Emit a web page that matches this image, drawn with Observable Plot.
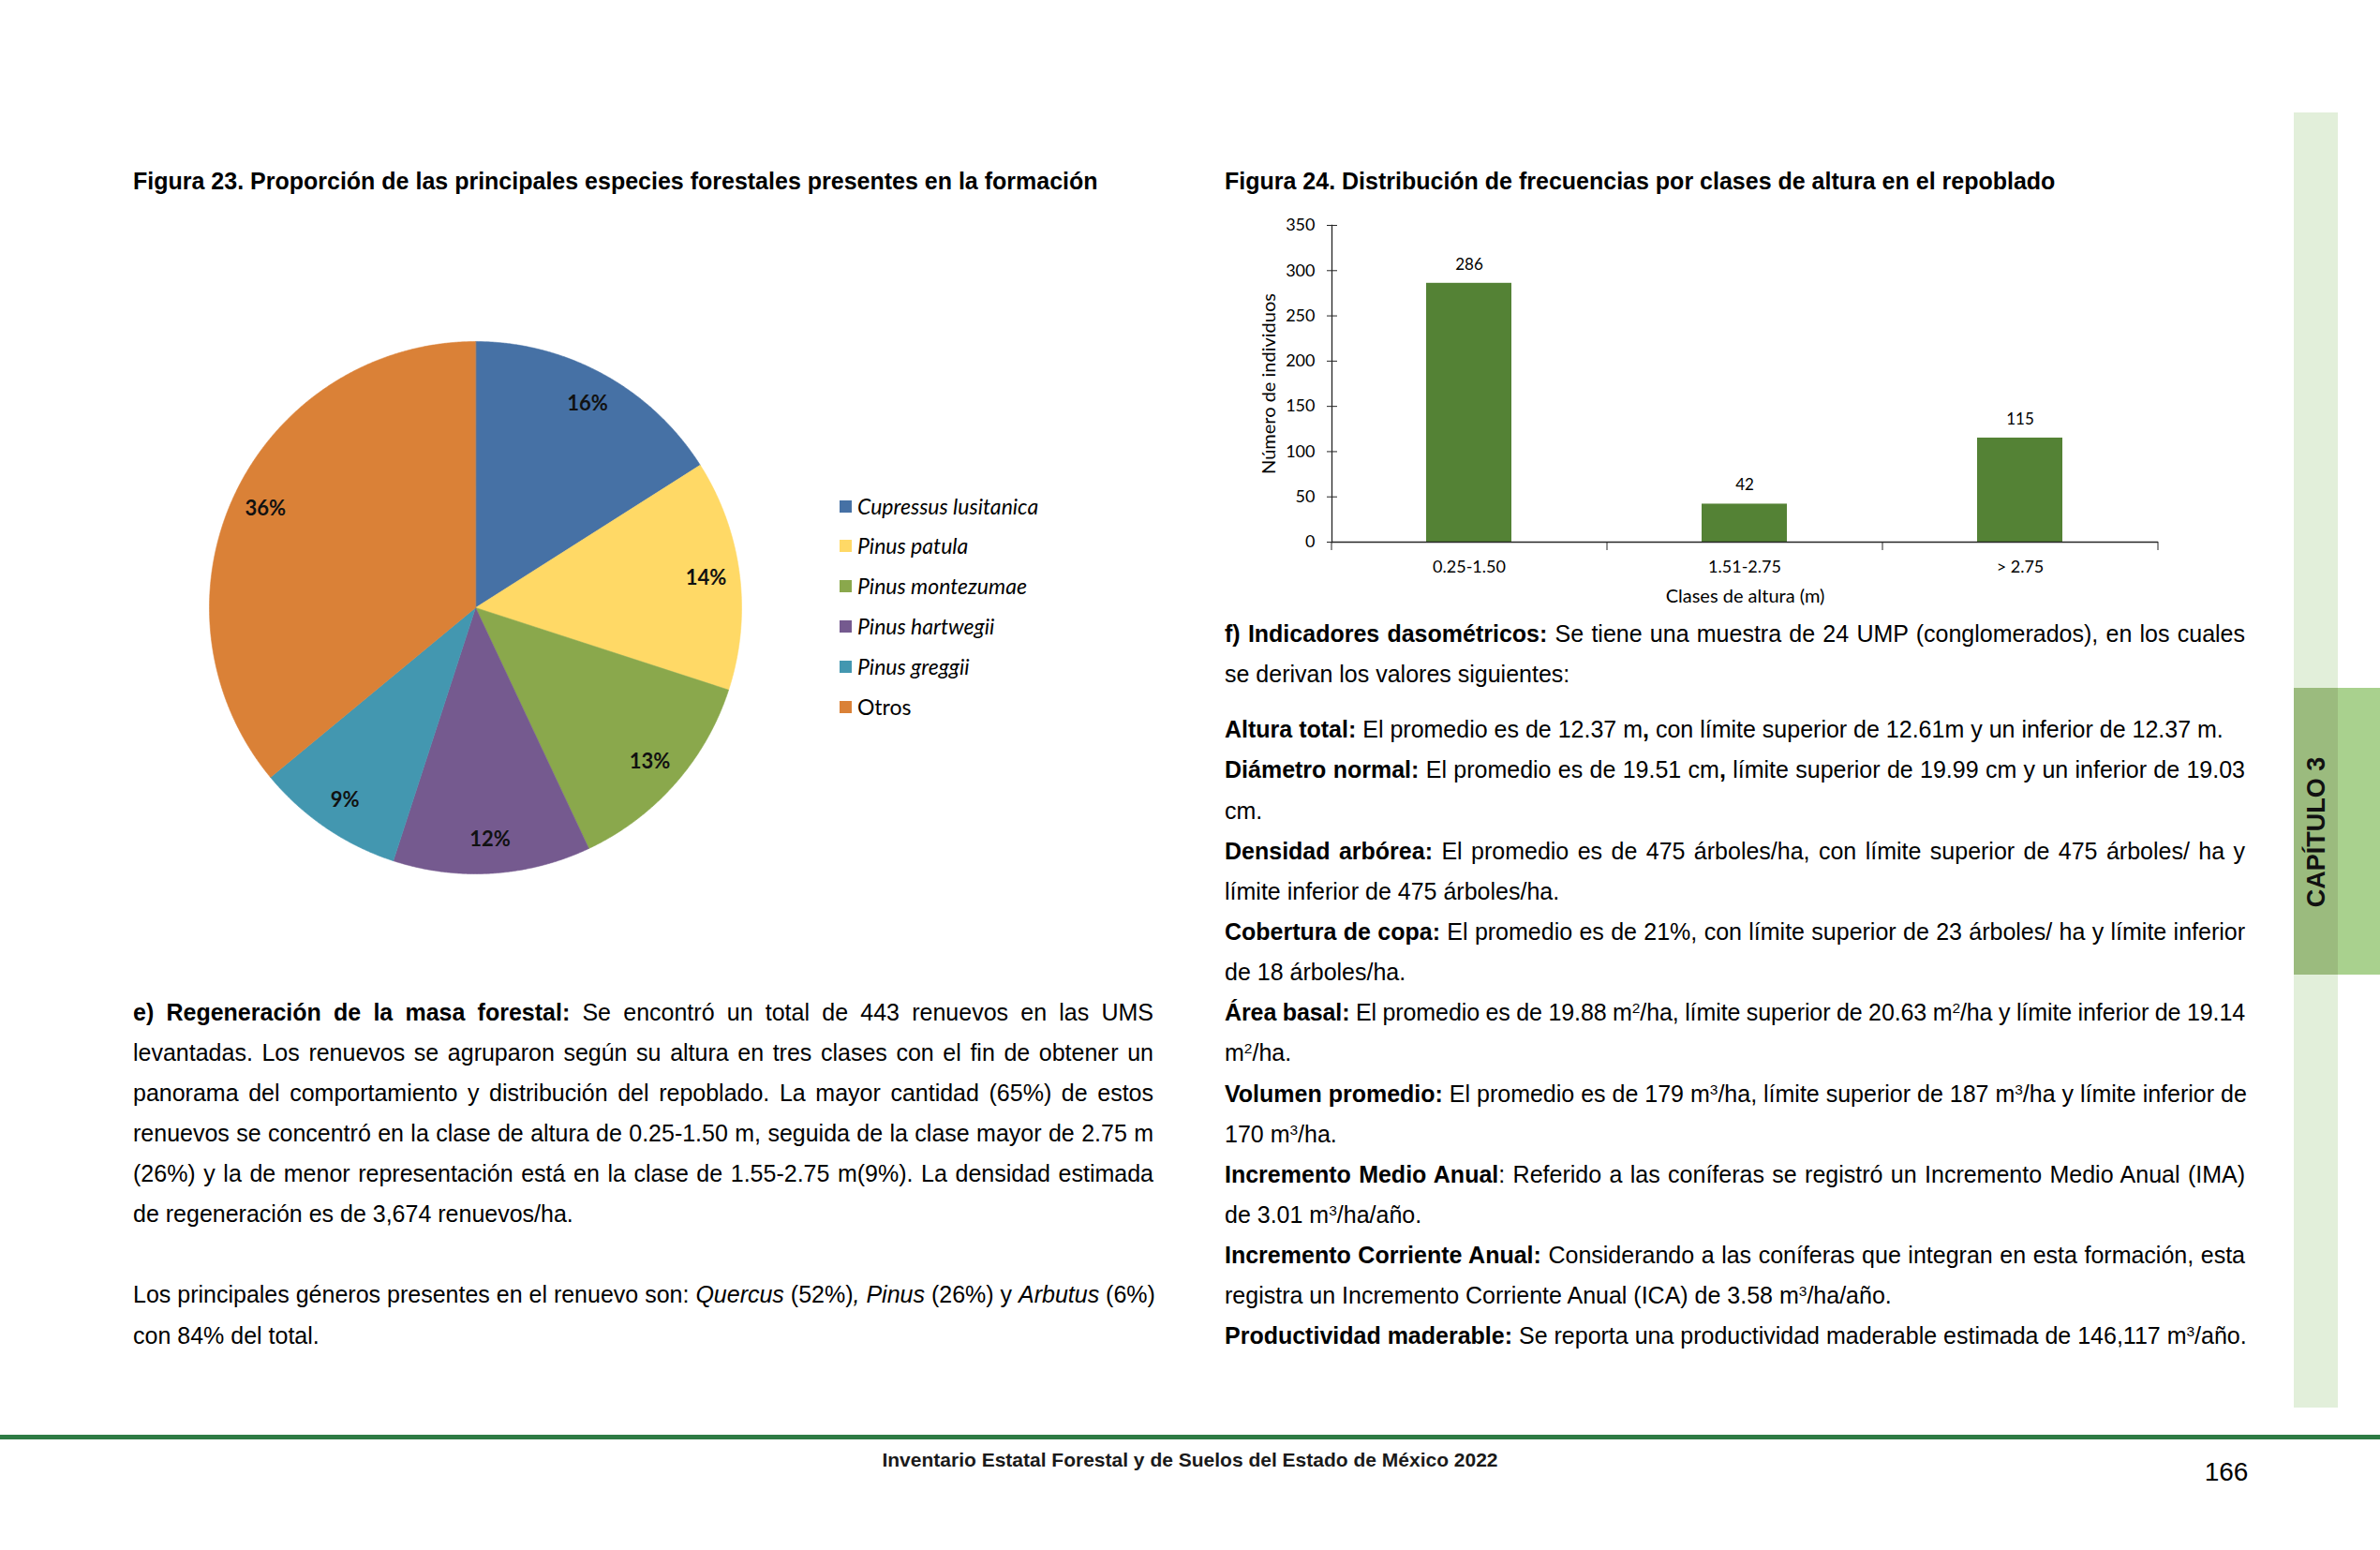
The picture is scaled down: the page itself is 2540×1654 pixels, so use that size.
<!DOCTYPE html>
<html lang="es"><head><meta charset="utf-8">
<script src="https://cdn.jsdelivr.net/npm/d3@7"></script>
<script src="https://cdn.jsdelivr.net/npm/@observablehq/plot@0.6"></script>
<style>
html,body{margin:0;padding:0;background:#fff}
body{position:relative;width:2540px;height:1654px;overflow:hidden;font-family:"Liberation Sans",Arial,sans-serif;color:#000}
.abs{position:absolute}
.fig-title{position:absolute;font-weight:bold;font-size:25px;line-height:30px;white-space:nowrap}
.col{position:absolute;width:1089px;font-size:25px}
.ln{height:43.15px;line-height:43.15px;white-space:nowrap;text-align:justify;text-align-last:justify}
.ln.l{text-align:left;text-align-last:left}
.ln.gap{margin-top:16.5px}
.ln.blank{height:43.15px}
.ln.tight{word-spacing:-1.4px;letter-spacing:-0.1px}
sup{font-size:0.62em;line-height:0;vertical-align:0.5em}
.leg-row{position:absolute;height:30px;line-height:30px;white-space:nowrap;font-family:Lato,sans-serif;font-size:23px;font-style:italic}
.leg-row .sw{position:absolute;left:0;top:9px;width:13px;height:13px}
.leg-row .t{position:absolute;left:19px}
.leg-row.plain{font-style:normal;font-size:23px}
</style></head><body>
<div class="fig-title" style="left:142px;top:178px">Figura 23. Proporción de las principales especies forestales presentes en la formación</div>
<div class="fig-title" style="left:1307px;top:178px">Figura 24. Distribución de frecuencias por clases de altura en el repoblado</div>
<div id="pie" class="abs" style="left:223px;top:364px"></div>
<div id="legend" class="abs" style="left:896px;top:0"></div>
<div id="bars" class="abs" style="left:1300px;top:220px"></div>

<div class="col" style="left:142px;top:1058.5px">
<div class="ln"><b>e) Regeneración de la masa forestal:</b> Se encontró un total de 443 renuevos en las UMS</div>
<div class="ln">levantadas. Los renuevos se agruparon según su altura en tres clases con el fin de obtener un</div>
<div class="ln">panorama del comportamiento y distribución del repoblado. La mayor cantidad (65%) de estos</div>
<div class="ln">renuevos se concentró en la clase de altura de 0.25-1.50 m, seguida de la clase mayor de 2.75 m</div>
<div class="ln">(26%) y la de menor representación está en la clase de 1.55-2.75 m(9%). La densidad estimada</div>
<div class="ln l">de regeneración es de 3,674 renuevos/ha.</div>
<div class="ln blank"></div>
<div class="ln">Los principales géneros presentes en el renuevo son: <i>Quercus</i> (52%)<i>,</i> <i>Pinus</i> (26%) y <i>Arbutus</i> (6%)</div>
<div class="ln l">con 84% del total.</div>
</div>

<div class="col" style="left:1307px;top:654.5px">
<div class="ln"><b>f) Indicadores dasométricos:</b> Se tiene una muestra de 24 UMP (conglomerados), en los cuales</div>
<div class="ln l">se derivan los valores siguientes:</div>
<div class="ln l gap"><b>Altura total:</b> El promedio es de 12.37 m<b>,</b> con límite superior de 12.61m y un inferior de 12.37 m.</div>
<div class="ln"><b>Diámetro normal:</b> El promedio es de 19.51 cm<b>,</b> límite superior de 19.99 cm y un inferior de 19.03</div>
<div class="ln l">cm.</div>
<div class="ln"><b>Densidad arbórea:</b> El promedio es de 475 árboles/ha, con límite superior de 475 árboles/ ha y</div>
<div class="ln l">límite inferior de 475 árboles/ha.</div>
<div class="ln"><b>Cobertura de copa:</b> El promedio es de 21%, con límite superior de 23 árboles/ ha y límite inferior</div>
<div class="ln l">de 18 árboles/ha.</div>
<div class="ln tight"><b>Área basal:</b> El promedio es de 19.88 m<sup>2</sup>/ha, límite superior de 20.63 m<sup>2</sup>/ha y límite inferior de 19.14</div>
<div class="ln l">m<sup>2</sup>/ha.</div>
<div class="ln"><b>Volumen promedio:</b> El promedio es de 179 m<sup>3</sup>/ha, límite superior de 187 m<sup>3</sup>/ha y límite inferior de</div>
<div class="ln l">170 m<sup>3</sup>/ha.</div>
<div class="ln"><b>Incremento Medio Anual</b>: Referido a las coníferas se registró un Incremento Medio Anual (IMA)</div>
<div class="ln l">de 3.01 m<sup>3</sup>/ha/año.</div>
<div class="ln"><b>Incremento Corriente Anual:</b> Considerando a las coníferas que integran en esta formación, esta</div>
<div class="ln l">registra un Incremento Corriente Anual (ICA) de 3.58 m<sup>3</sup>/ha/año.</div>
<div class="ln l"><b>Productividad maderable:</b> Se reporta una productividad maderable estimada de 146,117 m<sup>3</sup>/año.</div>
</div>

<!-- side chapter tab -->
<div class="abs" style="left:2448px;top:120px;width:47px;height:1382px;background:#E2EFDA"></div>
<div class="abs" style="left:2448px;top:734px;width:47px;height:306px;background:#9BBB7E"></div>
<div class="abs" style="left:2495px;top:734px;width:45px;height:306px;background:#A9D18E"></div>
<div class="abs" style="left:2472px;top:888px;width:0;height:0">
  <div style="position:absolute;left:0;top:0;transform:translate(-50%,-50%) rotate(-90deg);font-weight:bold;font-size:27px;white-space:nowrap;color:#111">CAPÍTULO 3</div>
</div>

<!-- footer -->
<div class="abs" style="left:0;top:1531px;width:2540px;height:5px;background:#2E7B44"></div>
<div class="abs" style="left:0;top:1545px;width:2540px;text-align:center;font-weight:bold;font-size:21px;line-height:26px;color:#1a1a1a">Inventario Estatal Forestal y de Suelos del Estado de México 2022</div>
<div class="abs" style="left:2300px;top:1553px;width:152px;text-align:center;font-size:28px;line-height:36px">166</div>

<script>
// ---------- Data ----------
const species = ["Cupressus lusitanica", "Pinus patula", "Pinus montezumae", "Pinus hartwegii", "Pinus greggii", "Otros"];
const shares = [16, 14, 13, 12, 9, 36];
const sliceColors = ["#4671A5", "#FFD966", "#8AA84C", "#755A8F", "#4397B0", "#DA8137"];

const heightClasses = ["0.25-1.50", "1.51-2.75", "> 2.75"];
const counts = [286, 42, 115];
const yTicks = [0, 50, 100, 150, 200, 250, 300, 350];
const yTitle = "Número de individuos";
const xTitle = "Clases de altura (m)";

// ---------- Pie (Figura 23) ----------
const arcs = d3.pie().sort(null).value(d => d)(shares);
const slicePts = [];
arcs.forEach((a, i) => {
  const n = Math.max(4, Math.ceil((a.endAngle - a.startAngle) / 0.005));
  slicePts.push({name: species[i], x: 0, y: 0});
  for (let k = 0; k <= n; k++) {
    const t = a.startAngle + (a.endAngle - a.startAngle) * k / n;
    slicePts.push({name: species[i], x: Math.sin(t), y: Math.cos(t)});
  }
});
const labelR = 0.873;
const labelPts = arcs.map((a, i) => {
  const m = (a.startAngle + a.endAngle) / 2;
  return {x: labelR * Math.sin(m), y: labelR * Math.cos(m), label: shares[i] + "%"};
});

const pie = Plot.plot({
  width: 568, height: 568, margin: 0,
  style: {background: "transparent", overflow: "visible"},
  x: {domain: [-1, 1], axis: null},
  y: {domain: [-1, 1], axis: null},
  color: {domain: species, range: sliceColors},
  marks: [
    Plot.line(slicePts, {x: "x", y: "y", z: "name", fill: "name", stroke: "name", strokeWidth: 0.6, curve: "linear-closed"}),
    Plot.text(labelPts, {x: "x", y: "y", text: "label", fontWeight: "bold", fontSize: 22, fontFamily: "Lato, sans-serif", fill: "#111"})
  ]
});
document.getElementById("pie").appendChild(pie);

// ---------- Legend ----------
const legend = document.getElementById("legend");
species.forEach((s, i) => {
  const row = document.createElement("div");
  row.className = "leg-row" + (s === "Otros" ? " plain" : "");
  row.style.left = "0px";
  row.style.top = (539.5 + i * 42.8 - 15) + "px";
  const sw = document.createElement("div");
  sw.className = "sw";
  sw.style.background = sliceColors[i];
  const t = document.createElement("span");
  t.className = "t";
  t.textContent = s;
  row.appendChild(sw); row.appendChild(t);
  legend.appendChild(row);
});

// ---------- Bars (Figura 24) ----------
const barData = heightClasses.map((c, i) => ({cls: c, n: counts[i]}));
const W = 1030, H = 440, ML = 121, MR = 27, MT = 20, MB = 82;
const step = (W - ML - MR) / heightClasses.length;
const axisColor = "#262626";
const bars = Plot.plot({
  width: W, height: H, marginLeft: ML, marginRight: MR, marginTop: MT, marginBottom: MB,
  style: {fontFamily: "Lato, sans-serif", fontSize: "18px", color: "#000", background: "transparent", overflow: "visible"},
  x: {domain: heightClasses, paddingInner: 0.69, paddingOuter: 0.345},
  y: {domain: [0, 350]},
  marks: [
    Plot.barY(barData, {x: "cls", y: "n", fill: "#548235"}),
    Plot.text(barData, {x: "cls", y: "n", text: d => String(d.n), dy: -20, fontSize: 17}),
    Plot.ruleY([0], {stroke: axisColor, strokeWidth: 1.3}),
    Plot.frame({anchor: "left", stroke: axisColor, strokeWidth: 1.3}),
    Plot.axisY(yTicks, {tickSize: 0, tickPadding: 18, label: null}),
    Plot.axisY(yTicks, {tickSize: 11, dx: 6, tickFormat: () => "", label: null, stroke: axisColor}),
    Plot.text([yTitle], {frameAnchor: "left", textAnchor: "middle", rotate: -90, dx: -67, text: d => d, fontSize: 20}),
    Plot.axisX({tickSize: 0, tickPadding: 20, label: null}),
    Plot.axisX({tickSize: 9, dx: step / 2, tickFormat: () => "", label: null, stroke: axisColor}),
    Plot.axisX([heightClasses[0]], {tickSize: 9, dx: -step / 2, tickFormat: () => "", label: null, stroke: axisColor}),
    Plot.text([xTitle], {frameAnchor: "bottom", dy: 64, text: d => d, fontSize: 20})
  ]
});
document.getElementById("bars").appendChild(bars);
</script>
</body></html>
